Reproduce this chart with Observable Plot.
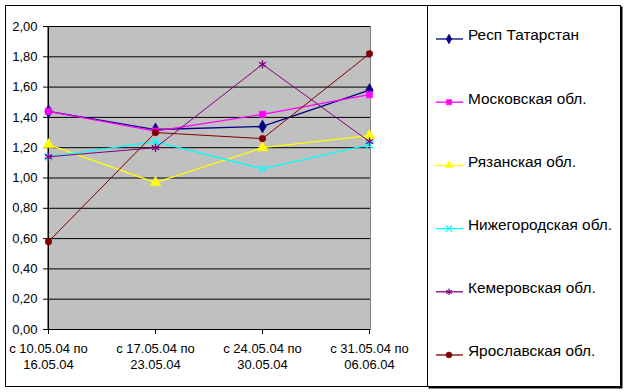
<!DOCTYPE html>
<html>
<head>
<meta charset="utf-8">
<script src="https://cdn.jsdelivr.net/npm/d3@7"></script>
<script src="https://cdn.jsdelivr.net/npm/@observablehq/plot@0.6"></script>
<style>
  html, body { margin: 0; padding: 0; background: #fff; }
  #wrap { position: relative; width: 627px; height: 392px; overflow: hidden; font-family: "Liberation Sans", Arial, sans-serif; }
  #outer { position: absolute; left: 5px; top: 5px; width: 616px; height: 382px; border: 1px solid #000; box-sizing: border-box; }
  #chart { position: absolute; left: 0; top: 0; }
  #legend { position: absolute; left: 0; top: 0; }
</style>
</head>
<body>
<div id="wrap">
  <div id="outer"></div>
  <div id="chart"></div>
  <svg id="legend" width="627" height="392"></svg>
</div>
<script>
// ---- data ----
const categories = ["с 10.05.04 по\n16.05.04", "с 17.05.04 по\n23.05.04", "с 24.05.04 по\n30.05.04", "с 31.05.04 по\n06.06.04"];
const seriesNames = ["Респ Татарстан", "Московская обл.", "Рязанская обл.", "Нижегородская обл.", "Кемеровская обл.", "Ярославская обл."];
const tatarstan   = [1.44, 1.32, 1.34, 1.58];
const moscow      = [1.44, 1.31, 1.42, 1.55];
const ryazan      = [1.22, 0.97, 1.20, 1.28];
const nizhny      = [1.14, 1.24, 1.06, 1.22];
const kemerovo    = [1.14, 1.20, 1.75, 1.24];
const yaroslavl   = [0.58, 1.30, 1.26, 1.82];
const yTicks = [0, 0.2, 0.4, 0.6, 0.8, 1.0, 1.2, 1.4, 1.6, 1.8, 2.0];

// ---- styles ----
const seriesValues = [tatarstan, moscow, ryazan, nizhny, kemerovo, yaroslavl];
const colors  = ["#000080", "#ff00ff", "#ffff00", "#00ffff", "#800080", "#800000"];
const symbols = ["diamond", "square", "triangle", "times", "asterisk", "circle"];
const filled  = [true, true, true, false, false, true];
const radii   = [4, 3.6, 4, 3.5, 4, 3.3];
const widths  = [1.3, 1.3, 1.3, 1.3, 1, 1];

const rows = seriesNames.map((name, i) => categories.map((c, j) => ({series: name, cat: c, value: seriesValues[i][j]})));

const fmt = v => d3.format(".2f")(v).replace(".", ",");

const marks = [
  Plot.frame({fill: "#c0c0c0", stroke: "#808080"}),
  Plot.ruleY(yTicks.slice(1), {stroke: "#000", strokeWidth: 1}),
  Plot.ruleX([categories[0]], {stroke: "#000"}),
  Plot.ruleY([0], {stroke: "#000"}),
  Plot.axisY({ticks: yTicks, tickFormat: fmt, tickSize: 4, tickPadding: 6, fontSize: 13, stroke: "#000", fill: "#000"}),
  Plot.axisX({tickSize: 5, tickPadding: 6, fontSize: 13, lineHeight: 1.3, fill: "#000"})
];
rows.forEach((d, i) => {
  marks.push(Plot.line(d, {x: "cat", y: "value", stroke: colors[i], strokeWidth: widths[i]}));
  marks.push(Plot.dot(d, {x: "cat", y: "value", symbol: symbols[i], r: radii[i],
    fill: filled[i] ? colors[i] : "none", stroke: colors[i], strokeWidth: filled[i] ? 0.5 : 1.3}));
});

const chart = Plot.plot({
  width: 627, height: 392,
  marginLeft: 47, marginRight: 257, marginTop: 26, marginBottom: 63,
  style: {fontFamily: "'Liberation Sans', Arial, sans-serif", background: "transparent", color: "#000"},
  x: {type: "point", domain: categories, padding: 0, label: null},
  y: {domain: [0, 2], label: null},
  marks
});
document.getElementById("chart").appendChild(chart);

// ---- legend ----
const lg = d3.select("#legend");
lg.append("rect").attr("x", 428.5).attr("y", 6.5).attr("width", 194).attr("height", 382).attr("fill", "#000");
lg.append("rect").attr("x", 427.5).attr("y", 5.5).attr("width", 193).attr("height", 381).attr("fill", "#fff").attr("stroke", "#000");
const legendY = d3.scalePoint().domain(seriesNames).range([39, 355]);
const symMap = {diamond: d3.symbolDiamond, square: d3.symbolSquare, triangle: d3.symbolTriangle, times: d3.symbolTimes, asterisk: d3.symbolAsterisk, circle: d3.symbolCircle};
seriesNames.forEach((name, i) => {
  const y = legendY(name);
  const g = lg.append("g");
  g.append("line").attr("x1", 436).attr("x2", 463).attr("y1", y).attr("y2", y).attr("stroke", colors[i]).attr("stroke-width", 1.3);
  g.append("path").attr("transform", `translate(449,${y})`)
    .attr("d", d3.symbol(symMap[symbols[i]], Math.PI * 3 * 3)())
    .attr("fill", filled[i] ? colors[i] : "none").attr("stroke", colors[i]).attr("stroke-width", filled[i] ? 0.5 : 1.2);
  g.append("text").attr("x", 468).attr("y", y - 4).attr("dy", "0.35em")
    .attr("font-size", 15.4).attr("font-family", "'Liberation Sans', Arial, sans-serif").attr("fill", "#000").text(name);
});
</script>
</body>
</html>
